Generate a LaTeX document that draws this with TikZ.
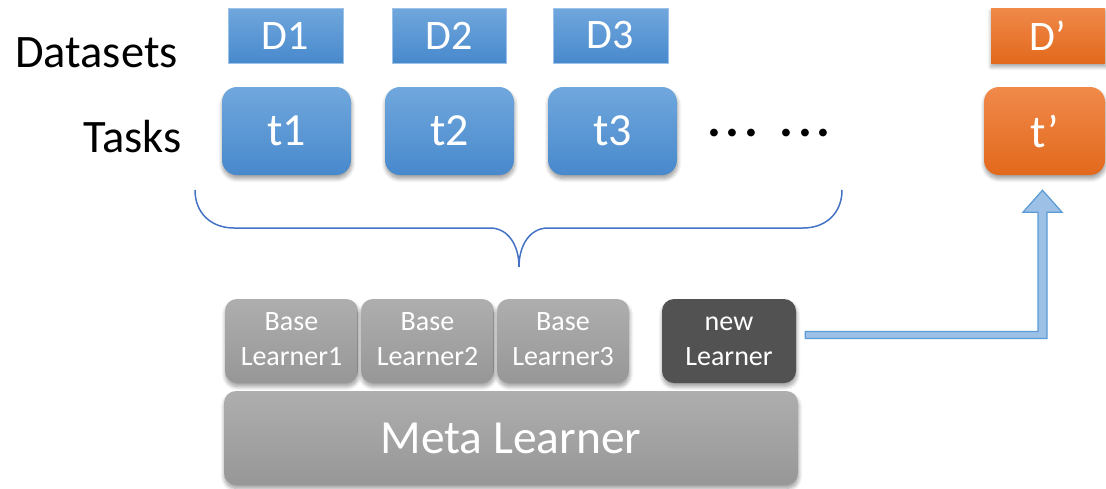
\documentclass[tikz,border=0pt]{standalone}
\usepackage{fontspec}
\setmainfont{Carlito}
\usetikzlibrary{shadows.blur,calc}
\definecolor{bluetop}{HTML}{70A7DD}
\definecolor{bluebot}{HTML}{4889CC}
\definecolor{blueedge}{HTML}{9CC2E8}
\definecolor{orangetop}{HTML}{F0894A}
\definecolor{orangebot}{HTML}{E2691C}
\definecolor{graytop}{HTML}{AEAEAE}
\definecolor{graybot}{HTML}{979797}
\definecolor{darkbox}{HTML}{525252}
\definecolor{bracecol}{HTML}{4472C4}
\definecolor{arrowfill}{HTML}{9DC0E6}
\definecolor{arrowedge}{HTML}{5B9BD5}
\newcommand{\dotgap}{\kern4.3pt}
\tikzset{
  shad/.style={blur shadow={shadow xshift=0.5pt, shadow yshift=-3.5pt, shadow blur radius=4pt, shadow opacity=40, shadow blur steps=8}},
  dbox/.style={rectangle, draw=blueedge, line width=1pt, top color=bluetop, bottom color=bluebot,
    text=white, font=\fontsize{42}{42}\selectfont, minimum height=55pt, inner sep=0pt},
  obox/.style={rectangle, top color=orangetop, bottom color=orangebot, shad,
    text=white, font=\fontsize{42}{42}\selectfont, minimum height=55pt, inner sep=0pt},
  tbox/.style={rectangle, rounded corners=15pt, top color=bluetop, bottom color=bluebot, shad,
    text=white, font=\fontsize{46}{46}\selectfont, minimum height=88pt, inner sep=0pt},
  tobox/.style={rectangle, rounded corners=15pt, top color=orangetop, bottom color=orangebot, shad,
    text=white, font=\fontsize{46}{46}\selectfont, minimum height=88pt, inner sep=0pt},
  lbox/.style={rectangle, rounded corners=12pt, top color=graytop, bottom color=graybot, shad,
    text=white, font=\fontsize{28}{34.5}\selectfont, align=center, minimum height=84pt, inner sep=0pt},
  nbox/.style={rectangle, rounded corners=12pt, fill=darkbox, shad,
    text=white, font=\fontsize{28}{34.5}\selectfont, align=center, minimum height=84pt, inner sep=0pt},
  mbox/.style={rectangle, rounded corners=12pt, top color=graytop, bottom color=graybot, shad,
    text=white, font=\fontsize{47.5}{47.5}\selectfont, minimum height=94pt, inner sep=0pt},
  rowlabel/.style={font=\fontsize{46.5}{46.5}\selectfont, text=black, inner sep=0pt, anchor=base east},
  bigarrow/.style={draw=arrowedge, line width=1.2pt, fill=arrowfill, line join=miter},
  bracestyle/.style={draw=bracecol, line width=1.5pt}
}
\begin{document}
\begin{tikzpicture}[x=1pt,y=-1pt]
\useasboundingbox (0,0) rectangle (1106,488);
% labels
\node[rowlabel] (lds) at (178,67) {Datasets};
\node[rowlabel] (ltk) at (182,152) {Tasks};
% datasets
\node[dbox, minimum width=115pt] (d1) at (285.5,35.5) {D1};
\node[dbox, minimum width=114pt] (d2) at (449,35.5) {D2};
\node[dbox, minimum width=115pt] (d3) at (610.5,35.5) {D3};
\node[obox, minimum width=114pt] (dp) at (1048,35.5) {D’};
% tasks
\node[tbox, minimum width=129pt] (t1) at (286.5,131) {t1};
\node[tbox, minimum width=129pt] (t2) at (449.5,131) {t2};
\node[tbox, minimum width=129pt] (t3) at (612.5,131) {t3};
\node[tobox, minimum width=121pt] (tp) at (1044.5,131) {t’};
\node[font=\bfseries\fontsize{52}{52}\selectfont, inner sep=0pt, anchor=base] (dots) at (769,136.5)
  {.\dotgap.\dotgap.\kern22pt.\dotgap.\dotgap.};
% brace
\draw[bracestyle] (195,190) .. controls (195,213) and (211,228) .. (234,228) -- (490,228)
  .. controls (508,228) and (519,245) .. (519,267)
  .. controls (519,245) and (530,228) .. (548,228) -- (803,228)
  .. controls (826,228) and (842,213) .. (842,190);
% learners
\node[mbox, minimum width=574pt] (meta) at (511,438) {Meta Learner};
\node[lbox, minimum width=133pt] (b1) at (291.5,341) {\strut Base\\\strut Learner1};
\node[lbox, minimum width=133pt] (b2) at (427.5,341) {\strut Base\\\strut Learner2};
\node[lbox, minimum width=132pt] (b3) at (563,341) {\strut Base\\\strut Learner3};
\node[nbox, minimum width=134pt] (nl) at (729,341) {\strut new\\\strut Learner};
% arrow from new learner to t'
\path (nl.east) ++(9,-6) coordinate (a0);
\path (tp.south) ++(-2,15) coordinate (tip);
\draw[bigarrow] ($(a0)+(0,-3.5)$) -| ($(tip)+(-4.5,22)$) -- ++(-15,0) -- (tip)
  -- ($(tip)+(19.5,22)$) -- ++(-15,0) |- ($(a0)+(0,3.5)$) -- cycle;
\end{tikzpicture}
\end{document}
